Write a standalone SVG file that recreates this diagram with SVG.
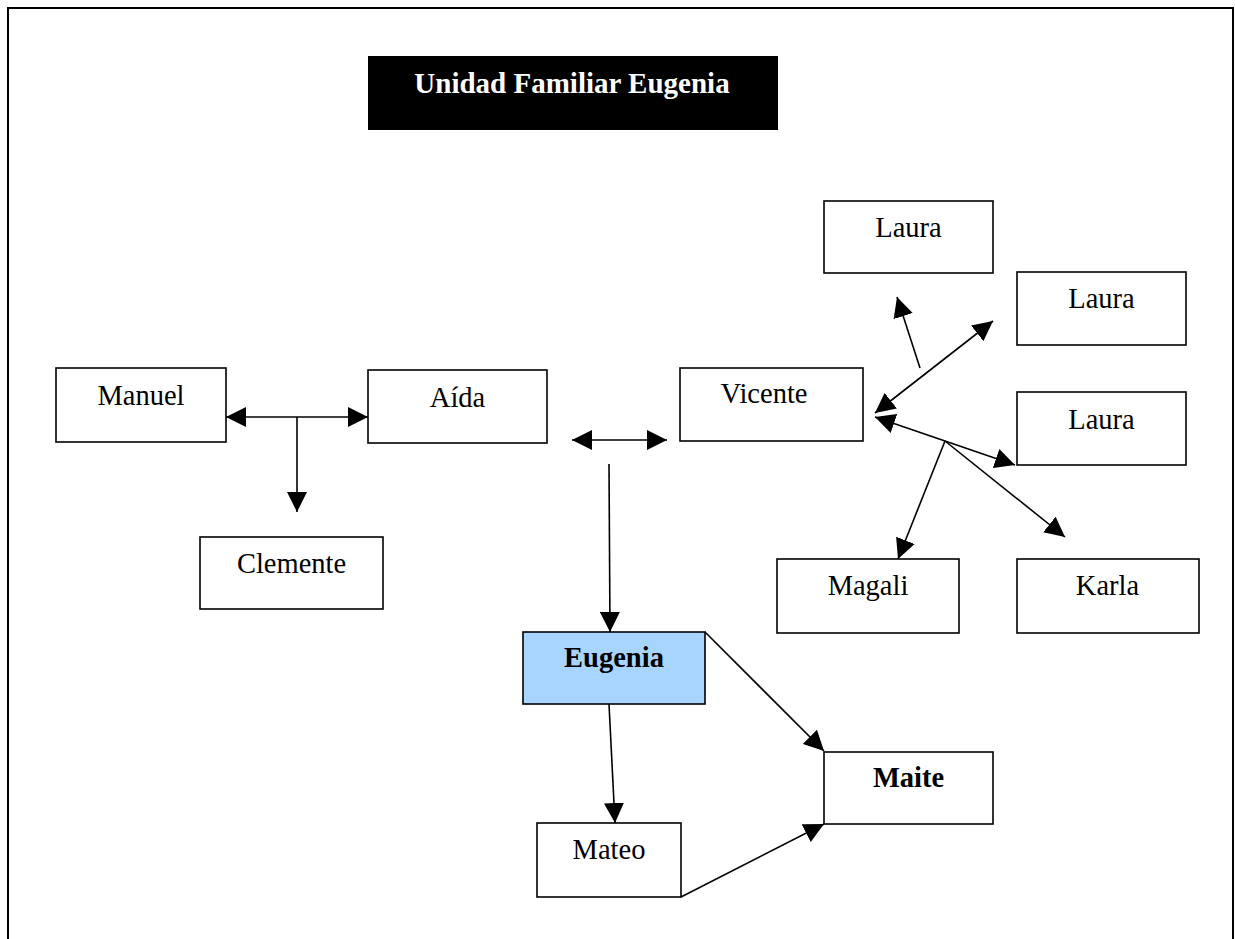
<svg xmlns="http://www.w3.org/2000/svg" width="1235" height="939" viewBox="0 0 1235 939">
<style>
.box{fill:#fff;stroke:#000;stroke-width:1.6}
.t{font-family:"Liberation Serif","Times New Roman",serif;font-size:28.5px;fill:#000;text-anchor:middle}
.b{font-weight:bold}
.c{fill:none;stroke:#000;stroke-width:1.6}
</style>
<defs>
<marker id="ah" markerUnits="userSpaceOnUse" markerWidth="21" markerHeight="20" refX="20" refY="10" orient="auto-start-reverse" viewBox="0 0 21 20">
<path d="M0,0 L20,10 L0,20 z" fill="#000"/>
</marker>
</defs>
<rect width="1235" height="939" fill="#fff"/>
<path d="M8,939 V8 H1233 V939" fill="none" stroke="#000" stroke-width="2"/>

<g id="title">
<rect x="368" y="56" width="410" height="74" fill="#000"/>
<text x="572" y="93" class="t b" style="fill:#fff;font-size:29px">Unidad Familiar Eugenia</text>
</g>

<g id="manuel"><rect class="box" x="56" y="368" width="170" height="74"/><text class="t" x="141" y="405">Manuel</text></g>
<g id="aida"><rect class="box" x="368" y="370" width="179" height="73"/><text class="t" x="457.5" y="407">Aída</text></g>
<g id="clemente"><rect class="box" x="200" y="537" width="183" height="72"/><text class="t" x="291.5" y="573">Clemente</text></g>
<g id="vicente"><rect class="box" x="680" y="368" width="183" height="73"/><text class="t" x="764" y="403">Vicente</text></g>
<g id="laura1"><rect class="box" x="824" y="201" width="169" height="72"/><text class="t" x="908.5" y="237">Laura</text></g>
<g id="laura2"><rect class="box" x="1017" y="272" width="169" height="73"/><text class="t" x="1101.5" y="308">Laura</text></g>
<g id="laura3"><rect class="box" x="1017" y="392" width="169" height="73"/><text class="t" x="1101.5" y="429">Laura</text></g>
<g id="magali"><rect class="box" x="777" y="559" width="182" height="74"/><text class="t" x="868" y="595">Magali</text></g>
<g id="karla"><rect class="box" x="1017" y="559" width="182" height="74"/><text class="t" x="1107.5" y="595">Karla</text></g>
<g id="eugenia"><rect class="box" x="523" y="632" width="182" height="72" style="fill:#A8D5FF"/><text class="t b" x="614" y="667">Eugenia</text></g>
<g id="mateo"><rect class="box" x="537" y="823" width="144" height="74"/><text class="t" x="609" y="859">Mateo</text></g>
<g id="maite"><rect class="box" x="824" y="752" width="169" height="72"/><text class="t b" x="908.5" y="787">Maite</text></g>

<g id="connectors">
<line class="c" x1="226" y1="417" x2="368" y2="417" marker-start="url(#ah)" marker-end="url(#ah)"/>
<line class="c" x1="297" y1="417" x2="297" y2="512" marker-end="url(#ah)"/>
<line class="c" x1="572" y1="440" x2="667" y2="440" marker-start="url(#ah)" marker-end="url(#ah)"/>
<line class="c" x1="609" y1="464" x2="610" y2="632" marker-end="url(#ah)"/>
<line class="c" x1="920" y1="368" x2="897" y2="297" marker-end="url(#ah)"/>
<line class="c" x1="875" y1="413" x2="993" y2="321" marker-start="url(#ah)" marker-end="url(#ah)"/>
<line class="c" x1="875" y1="417" x2="1015" y2="465" marker-start="url(#ah)" marker-end="url(#ah)"/>
<line class="c" x1="945" y1="441" x2="898" y2="559" marker-end="url(#ah)"/>
<line class="c" x1="945" y1="441" x2="1065" y2="537" marker-end="url(#ah)"/>
<line class="c" x1="609" y1="704" x2="615" y2="823" marker-end="url(#ah)"/>
<line class="c" x1="705" y1="632" x2="824" y2="751" marker-end="url(#ah)"/>
<line class="c" x1="681" y1="897" x2="824" y2="824" marker-end="url(#ah)"/>
</g>
</svg>
